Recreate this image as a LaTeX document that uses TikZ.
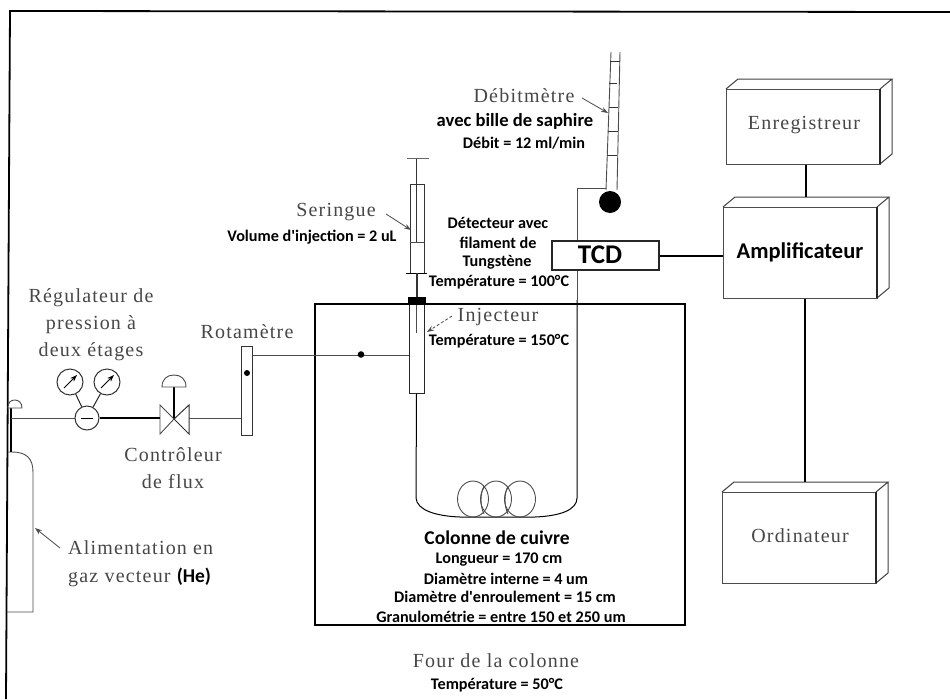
\documentclass[tikz,border=0pt]{standalone}
\usepackage{fontspec}
\setmainfont{Liberation Serif}[LetterSpace=6]
\newfontfamily\boldsans{Carlito}
\usetikzlibrary{arrows.meta}
\tikzset{
  x=1pt,y=-1pt,
  serif/.style={font=\fontsize{20}{27}\selectfont,text=black!72,inner sep=0,align=center},
  bsmall/.style={font=\boldsans\bfseries\fontsize{16.2}{21}\selectfont,inner sep=0,align=center},
  bmed/.style={font=\boldsans\bfseries\fontsize{19.5}{21}\selectfont,inner sep=0,align=center},
  thinl/.style={draw=black!70,line width=0.9},
  leader/.style={draw=black!70,line width=0.8,-{Stealth[length=7,width=5]}},
  gauge/.style={circle,draw=black!80,line width=1,minimum size=26,inner sep=0},
}
\newcommand{\cube}[6]{% name x1 y1 x2 y2 depth
  \node[draw=black!70,line width=1,minimum width=#4-#2,minimum height=#5-#3,inner sep=0,anchor=north west,fill=white] (#1) at (#2,#3) {};
  \draw[black!75,line width=1] (#2,#3) -- ++(#6,-10) -- (#4+#6,#3-10) -- (#4,#3)
     (#4+#6,#3-10) -- (#4+#6,#5-10) -- (#4,#5);
  \draw[black!85,line width=1.2] (#4,#3) -- (#4,#5);
}
\begin{document}
\begin{tikzpicture}
\useasboundingbox (0,0) rectangle (950,699);
\fill[white] (0,0) rectangle (950,699);
% frame
\draw[black,line width=1.8] (6,699) -- (10,11) -- (950,12);
% oven
\coordinate (ovenNW) at (315,304);
\coordinate (ovenSE) at (685,625);
\draw[black,line width=1.8] (ovenNW) rectangle (ovenSE);
% cylinder
\draw[thinl] (8,452) -- (12,452) .. controls (26,452) and (33,458) .. (33,472) -- (33,612) -- (7,612);
\draw[black,line width=1.4] (11,452) -- (11,408);
\draw[thinl,fill=white] (8,408) .. controls (8,402) and (11,400) .. (15,400) .. controls (19,400) and (22,403) .. (22,408) -- cycle;
% regulator
\node[gauge] (g1) at (70,382) {};
\node[gauge] (g2) at (107,382) {};
\node[circle,draw=black!80,line width=1,minimum size=24,inner sep=0] (reg) at (87,418) {};
\draw[black,line width=1] (81,418) -- (93,418);
\draw[black!85,line width=1] (g1) -- (reg) (g2) -- (reg);
\foreach \g in {g1,g2}{
  \draw[black,line width=1,-{Stealth[length=7,width=5]}] ([shift={(-6,6)}]\g.center) -- ([shift={(7,-7)}]\g.center);
}
% valve
\node[inner sep=0,minimum size=1] (valve) at (174,419) {};
\draw[thinl] (160,405) -- (174,419) -- (160,434) -- cycle;
\draw[black!80,line width=1] (189,405) -- (174,419) -- (189,434) -- cycle;
\draw[black,line width=1.2] (valve) -- (174,387);
\draw[thinl,fill=white] (162,387) .. controls (162,379) and (167,375) .. (174,375) .. controls (181,375) and (186,379) .. (186,387) -- cycle;
% rotameter
\node[draw=black!80,line width=1,minimum width=11,minimum height=89,inner sep=0] (rot) at (246.5,390.5) {};
\fill[black] (247,373) circle (3);
% gas lines
\draw[thinl] (11,418) -- (reg.west);
\draw[black,line width=1.3] (reg.east) -- (160,418);
\draw[thinl] (189,418) -- (rot.west |- 0,418);
% injector
\node[draw=black!85,line width=1,fill=white,minimum width=15,minimum height=96,inner sep=0] (inj) at (416.5,345) {};
\draw[thinl] (rot.east |- 0,355) -- (inj.west |- 0,355);
\fill[black] (361,354.5) circle (3.3);
% column
\draw[black,line width=1] (inj.south) -- (416,498) .. controls (417,510) and (435,516) .. (460,517) -- (535,517) .. controls (560,516) and (577,510) .. (577,498) -- (577,300);
\draw[thinl] (577,300) -- (577,188) -- (606,188);
% coils
\foreach \c in {473,496,520}{
  \draw[thinl] (\c,499) ellipse (15.5 and 18);
}
\draw[thinl] (484,486) .. controls (480,494) and (480,506) .. (484,514);
\draw[thinl] (508,486) .. controls (504,494) and (504,506) .. (508,514);
% syringe
\draw[black!80,line width=1] (410,273) -- (410,184) -- (424.5,184) -- (424.5,273);
\draw[thinl] (410,242) -- (424.5,242);
\draw[black!80,line width=0.8] (416.5,242) -- (416.5,158);
\draw[black!60,line width=0.9] (407,158) -- (429,158);
\draw[black,line width=1] (406,273) -- (427,273);
\draw[black!80,line width=1.2] (417,273) -- (417,298);
\fill[black] (408,297) rectangle (426,305);
\draw[black!70,line width=1] (416,305) -- (416,333);
% flowmeter
\draw[black!70,line width=0.9] (611,52) -- (606,190) (620,52) -- (617,190);
\foreach \yy/\xa/\xb in {61/610/620, 83/609/617, 107/609/618, 131/608/618, 155/607/617}{
  \draw[black!80,line width=1] (\xa,\yy) -- (\xb,\yy);
}
\node[circle,fill=black,minimum size=22,inner sep=0] (ball) at (610,202) {};
% TCD
\node[draw=black!85,line width=1.1,fill=white,minimum width=107,minimum height=29,inner sep=0] (tcd) at (605.5,255.5) {};
\node[font=\boldsans\bfseries\fontsize{27}{27}\selectfont,inner sep=0] at (600,255) {TCD};
% cubes
\cube{enr}{726}{89}{880}{164}{12}
\cube{amp}{723}{207}{877}{298}{12}
\cube{ord}{722}{492}{876}{583}{12}
\node[serif] at (804,125) {Enregistreur};
\node[bmed,font=\boldsans\bfseries\fontsize{22.5}{24}\selectfont] at (800,252) {Amplificateur};
\node[serif] at (800,536) {Ordinateur};
\coordinate (ampTop) at (806,197);
\coordinate (ordTop) at (805,482);
\draw[black,line width=2.4] (enr.south -| ampTop) -- (ampTop);
\draw[black,line width=2] (tcd.east) -- (amp.west |- tcd.east);
\draw[black,line width=2.4] (amp.south -| ordTop) -- (ordTop);
% labels
\node[serif] (debit) at (524,96) {Débitmètre};
\node[bsmall,font=\boldsans\bfseries\fontsize{18.6}{21}\selectfont] at (515,121) {avec bille de saphire};
\node[bsmall] at (524,143) {Débit = 12 ml/min};
\coordinate (debA) at (608,113);
\draw[leader] (582,98) -- (debA);
\node[serif] (ser) at (336,212) {Seringue};
\node[bsmall] at (312,237) {Volume d'injection = 2 uL};
\coordinate (serA) at (411,230);
\draw[leader] (386,214) -- (serA);
\node[bsmall] at (498,223) {Détecteur avec};
\node[bsmall] at (498,243) {filament de};
\node[bsmall] at (497,262) {Tungstène};
\node[bsmall] at (499,282) {Température = 100°C};
\node[serif] (inL) at (498,317) {Injecteur};
\coordinate (inA) at (427,332);
\draw[leader,densely dashed] (452,316) -- (inA);
\node[bsmall] at (499,341) {Température = 150°C};
\node[serif] at (91,325) {Régulateur de\\pression à\\deux étages};
\node[serif] at (247,332) {Rotamètre};
\node[serif] at (173,468) {Contrôleur\\de flux};
\node[serif,anchor=west] at (68,548) {Alimentation en};
\node[serif,anchor=west] at (68,577) {gaz vecteur {\color{black}\boldsans\bfseries\fontsize{19.5}{21}\selectfont(He)}};
\coordinate (cylA) at (35,528);
\draw[leader] (60,548) -- (cylA);
\node[bmed] at (497,538) {Colonne de cuivre};
\node[bsmall] at (499,560) {Longueur = 170 cm};
\node[bsmall] at (506,579) {Diamètre interne = 4 um};
\node[bsmall] at (505,597) {Diamètre d'enroulement = 15 cm};
\node[bsmall] at (501,617) {Granulométrie = entre 150 et 250 um};
\node[serif] at (496,661) {Four de la colonne};
\node[bsmall] at (497,685) {Température = 50°C};
\end{tikzpicture}
\end{document}
